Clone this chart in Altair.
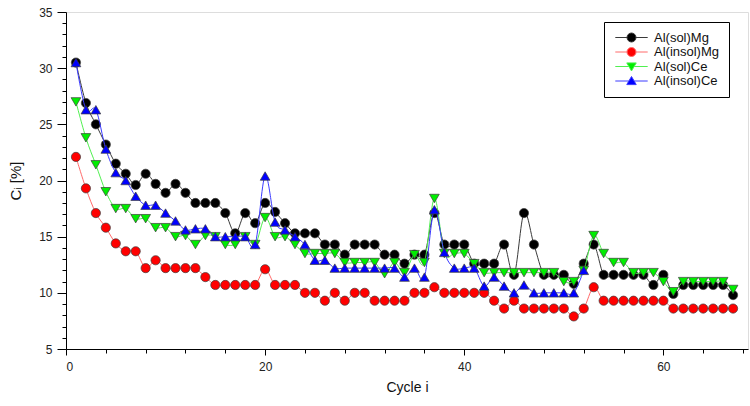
import altair as alt
import pandas as pd

# ---------------- data ----------------
names = ["Al(sol)Mg", "Al(insol)Mg", "Al(sol)Ce", "Al(insol)Ce"]

al_sol_mg = [30.5, 26.9, 25.0, 23.2, 21.5, 20.6, 19.6, 20.6, 19.7, 18.9,
             19.7, 18.9, 18.0, 18.0, 18.0, 17.1, 15.3, 17.1, 16.2, 18.0,
             17.2, 16.2, 15.3, 15.3, 15.3, 14.3, 14.3, 13.4, 14.3, 14.3,
             14.3, 13.4, 13.4, 12.6, 13.4, 13.4, 17.1, 14.3, 14.3, 14.3,
             12.6, 12.6, 12.6, 14.3, 11.6, 17.1, 14.3, 11.6, 11.6, 11.6,
             10.8, 12.6, 14.3, 11.6, 11.6, 11.6, 11.6, 11.6, 10.7, 11.6,
             9.9, 10.7, 10.7, 10.7, 10.7, 10.7, 9.8]
al_insol_mg = [22.1, 19.3, 17.1, 15.8, 14.4, 13.7, 13.7, 12.2, 12.9, 12.2,
               12.2, 12.2, 12.2, 11.4, 10.7, 10.7, 10.7, 10.7, 10.7, 12.1,
               10.7, 10.7, 10.7, 10.0, 10.0, 9.3, 10.0, 9.3, 10.0, 10.0,
               9.3, 9.3, 9.3, 9.3, 10.0, 10.0, 10.5, 10.0, 10.0, 10.0,
               10.0, 10.0, 9.3, 8.6, 9.3, 8.6, 8.6, 8.6, 8.6, 8.6,
               7.9, 8.6, 10.5, 9.3, 9.3, 9.3, 9.3, 9.3, 9.3, 9.3,
               8.6, 8.6, 8.6, 8.6, 8.6, 8.6, 8.6]
al_sol_ce = [27.0, 23.8, 21.4, 19.0, 17.5, 17.5, 16.6, 16.6, 15.8, 15.8,
             15.0, 15.1, 14.3, 15.1, 15.0, 14.3, 14.3, 15.0, 14.3, 16.7,
             15.0, 15.0, 14.3, 13.5, 13.5, 13.5, 13.5, 12.7, 12.7, 12.7,
             12.7, 11.7, 12.7, 11.8, 13.4, 12.7, 18.4, 13.5, 13.5, 13.5,
             12.6, 11.8, 11.8, 11.8, 11.8, 11.8, 11.8, 11.8, 11.8, 11.0,
             11.0, 12.0, 15.1, 13.5, 12.7, 12.7, 11.8, 11.8, 11.8, 11.0,
             10.1, 11.0, 11.0, 11.0, 11.0, 11.0, 10.3]
al_insol_ce = [30.5, 26.3, 26.3, 22.8, 20.7, 20.0, 18.6, 17.8, 17.8, 17.1,
               16.4, 15.6, 15.7, 15.7, 15.0, 15.0, 15.0, 15.0, 14.3, 20.4,
               16.3, 15.6, 15.0, 14.3, 12.9, 12.9, 12.2, 12.2, 12.2, 12.2,
               12.2, 12.2, 12.2, 11.4, 12.2, 11.4, 17.4, 13.6, 12.2, 12.2,
               12.2, 10.6, 11.4, 10.6, 10.0, 10.7, 10.0, 10.0, 10.0, 10.0,
               10.0, 12.0]
series_values = [al_sol_mg, al_insol_mg, al_sol_ce, al_insol_ce]

x_ticks = list(range(0, 69, 4))
y_ticks = list(range(5, 36))

# ---------------- styling ----------------
marker_fill = ["#000000", "#ff0000", "#00ee00", "#0000ff"]
line_color = ["#3a3a3a", "#ff6a6a", "#50f050", "#3a3aff"]
marker_shape = ["circle", "circle", "triangle-down", "triangle-up"]
marker_size = [85, 85, 95, 95]
legend_paths = [
    "M-3.6,0L-1,0M1,0L3.6,0M-1,0A1,1,0,1,1,1,0A1,1,0,1,1,-1,0Z",
    "M-3.6,0L-1,0M1,0L3.6,0M-1,0A1,1,0,1,1,1,0A1,1,0,1,1,-1,0Z",
    "M-3.6,0L-0.6,0M0.6,0L3.6,0M-1.05,-0.8L1.05,-0.8L0,1Z",
    "M-3.6,0L-0.6,0M0.6,0L3.6,0M-1.05,0.8L1.05,0.8L0,-1Z",
]
FONT = "Liberation Sans"

rows = []
for name, vals in zip(names, series_values):
    for i, v in enumerate(vals):
        rows.append({"cycle": i + 1, "value": v, "series": name})
df = pd.DataFrame(rows)

x_enc = alt.X(
    "cycle:Q",
    scale=alt.Scale(domain=[0, 68.5], nice=False, zero=False),
    axis=alt.Axis(
        title="Cycle i", values=x_ticks,
        labelExpr="datum.value % 20 === 0 ? datum.label : ''",
        tickSize={"condition": {"test": "datum.value % 20 === 0", "value": 6}, "value": 4},
        grid=False, domainColor="black", tickColor="black",
        labelColor="#222222", labelFont=FONT, labelFontSize=12, labelPadding=6,
        titleFont=FONT, titleFontSize=14, titleFontWeight="normal",
        titleColor="#111111", titlePadding=8,
    ),
)
y_enc = alt.Y(
    "value:Q",
    scale=alt.Scale(domain=[5, 35], nice=False, zero=False),
    axis=alt.Axis(
        title="Cᵢ [%]", values=y_ticks,
        labelExpr="datum.value % 5 === 0 ? datum.label : ''",
        tickSize={"condition": {"test": "datum.value % 5 === 0", "value": 9}, "value": 4},
        grid=False, domainColor="black", tickColor="black",
        labelColor="#222222", labelFont=FONT, labelFontSize=12, labelPadding=5,
        titleFont=FONT, titleFontSize=15, titleFontWeight="normal",
        titleColor="#111111", titlePadding=15,
    ),
)

base = alt.Chart(df)

# legend provider (invisible marks, its legend is the only one)
leg = alt.Legend(
    title=None, orient="none", legendX=538, legendY=10,
    strokeColor="black", fillColor="white", padding=9, cornerRadius=0,
    symbolSize=81, symbolStrokeWidth=1, symbolOffset=12, symbolOpacity=1,
    labelOffset=16, labelFont=FONT, labelFontSize=13, labelColor="#111111",
    labelExpr="datum.label + '\u00a0\u00a0\u00a0\u00a0'",
    rowPadding=0.5,
)
legend_layer = base.mark_point(opacity=0, filled=True).encode(
    x=x_enc, y=y_enc,
    fill=alt.Fill("series:N", scale=alt.Scale(domain=names, range=marker_fill), legend=leg),
    stroke=alt.Stroke("series:N", scale=alt.Scale(domain=names, range=line_color), legend=leg),
    shape=alt.Shape("series:N", scale=alt.Scale(domain=names, range=legend_paths), legend=leg),
)

layers = [legend_layer]
for k, name in enumerate(names):
    sub = base.transform_filter(alt.datum.series == name)
    layers.append(
        sub.mark_line(interpolate="cardinal", strokeWidth=1, stroke=line_color[k]).encode(
            x=x_enc, y=y_enc,
        )
    )
    layers.append(
        sub.mark_point(shape=marker_shape[k], filled=True, size=marker_size[k],
                       fill=marker_fill[k], stroke="#3c3c3c", strokeWidth=0.7,
                       opacity=1).encode(
            x=x_enc, y=y_enc,
        )
    )

chart = alt.layer(*layers).properties(
    width=682, height=337,
    autosize=alt.AutoSizeParams(type="none"),
    padding={"left": 66, "top": 12, "right": 2, "bottom": 57},
).configure_view(stroke=None).configure(background="white")

chart.save("out.html", embed_options={"renderer": "svg", "actions": False})
